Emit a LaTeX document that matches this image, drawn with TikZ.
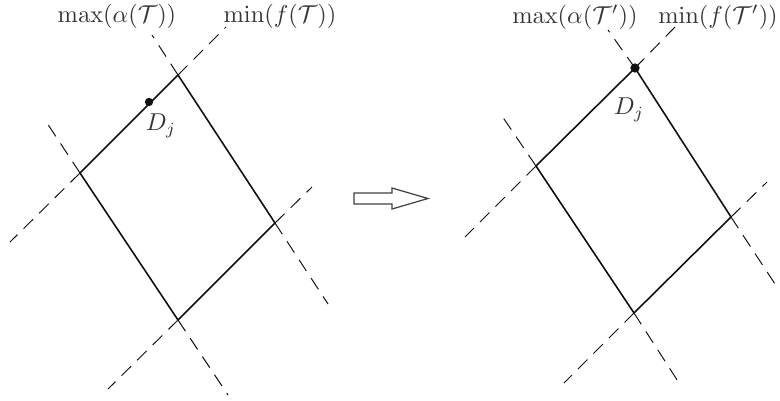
\documentclass[tikz,border=0pt]{standalone}
\usetikzlibrary{calc}
\definecolor{ink}{HTML}{111111}
\tikzset{
  side/.style={draw=ink,line width=.65pt},
  ext/.style={draw=ink,line width=.4pt,dash pattern=on 5.5pt off 3.5pt},
  vertex/.style={circle,fill=ink,inner sep=0pt,minimum size=3.4pt},
  tag/.style={text=ink!85,inner sep=1pt},
  blockarrow/.style={draw=ink!80,line width=.5pt,fill=white}}

\begin{document}
\begin{tikzpicture}[x=.41pt,y=-.41pt]
\useasboundingbox (0,0) rectangle (780,400);
% before: corners and free ends of the lines
\coordinate (tA) at (178,75);  \coordinate (lA) at (80,173);
\coordinate (bA) at (178,320); \coordinate (rA) at (275,223);
\coordinate (tA1) at (152,35);  \coordinate (tA2) at (226,27);
\coordinate (lA1) at (45,120);  \coordinate (lA2) at (10,242);
\coordinate (bA1) at (108,389); \coordinate (bA2) at (228,395);
\coordinate (rA1) at (312,187); \coordinate (rA2) at (328,304);
\draw[side] (tA)--(lA)--(bA)--(rA)--cycle;
\draw[ext] (tA)--(tA1) (tA)--(tA2) (lA)--(lA1) (lA)--(lA2)
  (bA)--(bA1) (bA)--(bA2) (rA)--(rA1) (rA)--(rA2);
\node[vertex] (dA) at (149,102) {};
\node[tag] (djA) at (161,126) {$D_j$};
\node[tag] (maxA) at (117,16) {$\max(\alpha(\mathcal{T}))$};
\node[tag] (minA) at (280,16) {$\min(f(\mathcal{T}))$};
% the shift
\draw[blockarrow] (354,193)--(392,193)--(392,188)--(428,198.5)--(392,209)--(392,204)--(354,204)--cycle;
% after
\coordinate (tB) at (635,68);  \coordinate (lB) at (536,166);
\coordinate (bB) at (634,313); \coordinate (rB) at (731,217);
\coordinate (tB1) at (608,30);  \coordinate (tB2) at (676,26);
\coordinate (lB1) at (502,116); \coordinate (lB2) at (465,237);
\coordinate (bB1) at (564,383); \coordinate (bB2) at (681,386);
\coordinate (rB1) at (767,182); \coordinate (rB2) at (779,290);
\draw[side] (tB)--(lB)--(bB)--(rB)--cycle;
\draw[ext] (tB)--(tB1) (tB)--(tB2) (lB)--(lB1) (lB)--(lB2)
  (bB)--(bB1) (bB)--(bB2) (rB)--(rB1) (rB)--(rB2);
\node[vertex,minimum size=3.8pt] (dB) at (tB) {};
\node[tag] (djB) at (629,110) {$D_j$};
\node[tag] (maxB) at (575,17) {$\max(\alpha(\mathcal{T}'))$};
\node[tag] (minB) at (718,17) {$\min(f(\mathcal{T}'))$};
\end{tikzpicture}
\end{document}
